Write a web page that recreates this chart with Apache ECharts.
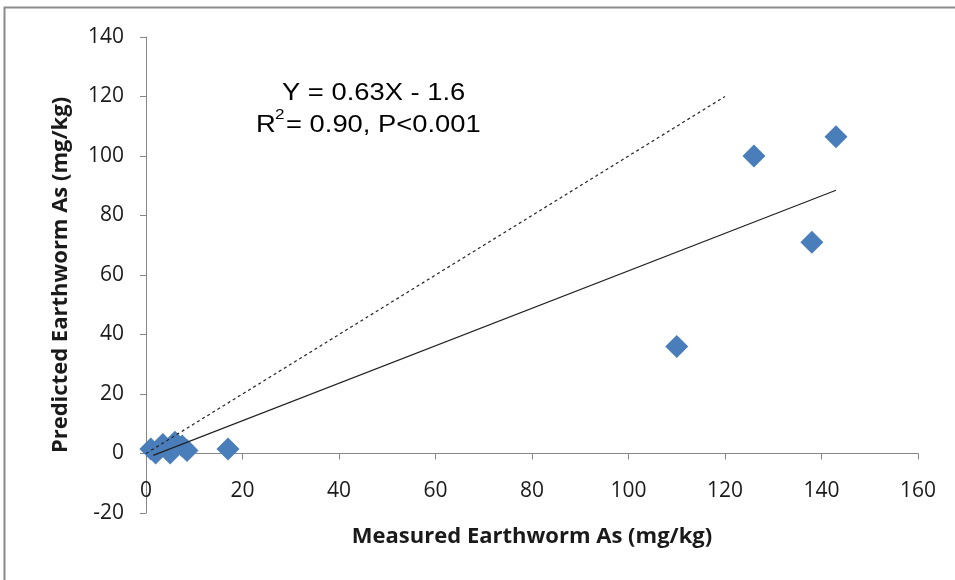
<!DOCTYPE html>
<html><head><meta charset="utf-8">
<script src="https://cdn.jsdelivr.net/npm/echarts@6/dist/echarts.min.js"></script>
<style>html,body{margin:0;padding:0;background:#fff}#c{width:955px;height:580px}</style>
</head><body><div id="c"></div>
<script>
const measured = [1, 2, 3.5, 5, 6, 7.5, 8.5, 17, 110, 126, 138, 143];
const predicted = [1.5, 0.2, 3, 0.2, 3.8, 2.5, 1, 1.5, 36, 100, 71, 106.5];
const fitLine = [[1.5, -0.65], [143, 88.5]];
const oneToOne = [[0, 0], [120, 120]];
const xTicks = {min: 0, max: 160, interval: 20};
const yTicks = {min: -20, max: 140, interval: 20};
const xTitle = 'Measured Earthworm As (mg/kg)';
const yTitle = 'Predicted Earthworm As (mg/kg)';
const eqLine1 = 'Y = 0.63X - 1.6';
const eqLine2 = '= 0.90, P<0.001';

const chart = echarts.init(document.getElementById('c'));
const axisCol = '#868686';
chart.setOption({
  animation: false,
  grid: {left: 146, right: 37, top: 37, bottom: 67, outerBoundsMode: 'none', containLabel: false},
  xAxis: {
    type: 'value', min: xTicks.min, max: xTicks.max, interval: xTicks.interval,
    axisLine: {show: true, onZero: true, lineStyle: {color: axisCol, width: 1}},
    axisTick: {show: true, length: 6, lineStyle: {color: axisCol}},
    splitLine: {show: false},
    axisLabel: {margin: -32, color: '#1a1a1a', fontFamily: 'Open Sans', fontSize: 21},
    name: xTitle, nameLocation: 'middle', nameGap: 13,
    nameTextStyle: {fontFamily: 'Open Sans', fontWeight: 'bold', fontSize: 22, color: '#1a1a1a'}
  },
  yAxis: {
    type: 'value', min: yTicks.min, max: yTicks.max, interval: yTicks.interval,
    axisLine: {show: true, onZero: false, lineStyle: {color: axisCol, width: 1}},
    axisTick: {show: true, length: 6, lineStyle: {color: axisCol}},
    splitLine: {show: false},
    axisLabel: {margin: 22, color: '#1a1a1a', fontFamily: 'Open Sans', fontSize: 21},
    name: yTitle, nameLocation: 'middle', nameGap: 74,
    nameTextStyle: {fontFamily: 'Open Sans', fontWeight: 'bold', fontSize: 22, color: '#1a1a1a'}
  },
  series: [
    {type: 'line', data: oneToOne, showSymbol: false, symbol: 'none',
     lineStyle: {color: '#222', width: 1.2, type: [3, 3]}, z: 3},
    {type: 'line', data: fitLine, showSymbol: false, symbol: 'none',
     lineStyle: {color: '#222', width: 1.2}, z: 3},
    {type: 'scatter', data: measured.map((m, i) => [m, predicted[i]]),
     symbol: 'diamond', symbolSize: [23, 23],
     itemStyle: {color: '#4A7EBB', opacity: 1}, z: 2}
  ],
  graphic: [
    {type: 'rect', shape: {x: 4.5, y: 7.5, width: 1000, height: 1000},
     style: {fill: 'none', stroke: '#8a8a8a', lineWidth: 2}, silent: true},
    {type: 'text', x: 282, y: 81, scaleX: 1.14,
     style: {text: eqLine1, font: '24px "Liberation Sans"', fill: '#000'}},
    {type: 'text', x: 256, y: 113, scaleX: 1.14,
     style: {text: 'R', font: '24px "Liberation Sans"', fill: '#000'}},
    {type: 'text', x: 275, y: 107, scaleX: 1.14,
     style: {text: '2', font: '15px "Liberation Sans"', fill: '#000'}},
    {type: 'text', x: 286, y: 113, scaleX: 1.14,
     style: {text: eqLine2, font: '24px "Liberation Sans"', fill: '#000'}}
  ]
});
</script></body></html>
